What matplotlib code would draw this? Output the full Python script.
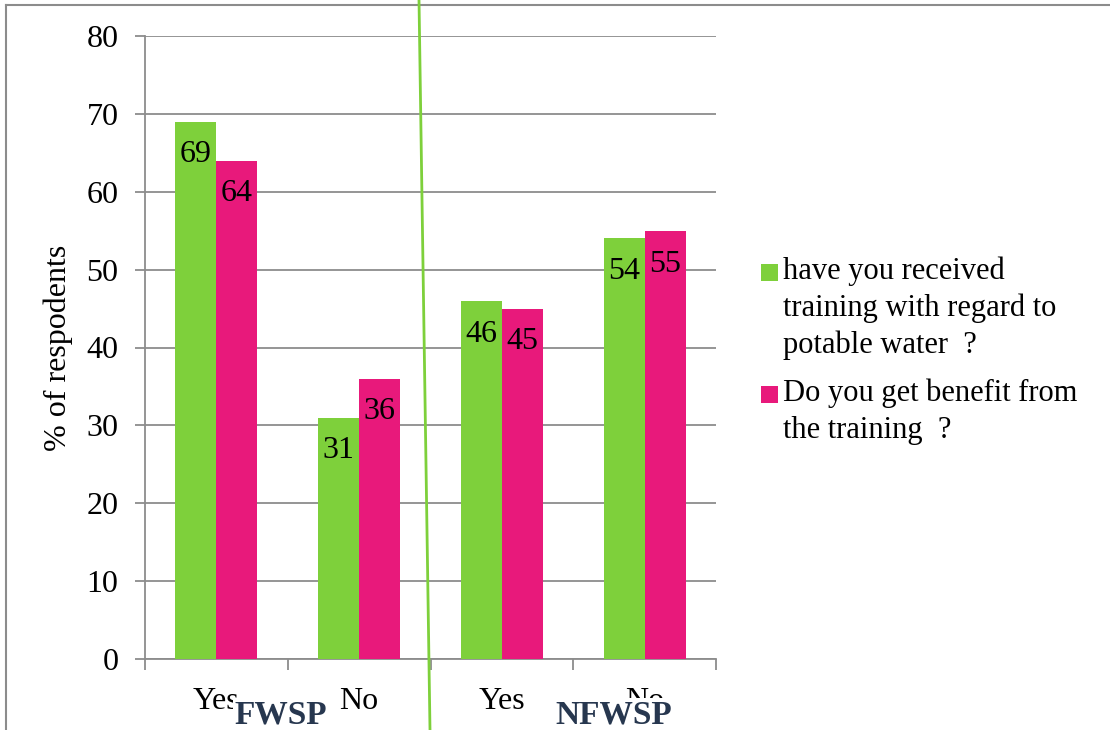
import numpy as np
import matplotlib.pyplot as plt
from matplotlib.lines import Line2D
from matplotlib.patches import Rectangle

categories = ['Yes', 'No', 'Yes', 'No']
received = [69, 31, 46, 54]
benefit = [64, 36, 45, 55]
groups = ['FWSP', 'NFWSP']
series_names = ['have you received\ntraining with regard to\npotable water  ?',
                'Do you get benefit from\nthe training  ?']

green = '#7ED03B'
pink = '#E8197B'
grid_gray = '#8C8C8C'

plt.rcParams['font.family'] = ['Liberation Serif', 'DejaVu Serif']

fig = plt.figure(figsize=(11.1, 7.3), dpi=100)
ax = fig.add_axes([145 / 1110, 1 - 659 / 730, (716 - 145) / 1110, (659 - 36) / 730])

x = np.arange(len(categories))
w = 0.287
b1 = ax.bar(x - w / 2, received, w, color=green, zorder=3)
b2 = ax.bar(x + w / 2, benefit, w, color=pink, zorder=3)

for bars, vals in ((b1, received), (b2, benefit)):
    for rect, v in zip(bars, vals):
        ax.annotate(str(v), (rect.get_x() + rect.get_width() / 2, v),
                    xytext=(0, -24), textcoords='offset points',
                    ha='center', va='center', fontsize=23, zorder=4)

ax.set_xlim(-0.5, len(categories) - 0.5)
ax.set_ylim(0, 80)
ax.set_yticks(np.arange(0, 81, 10))
ax.yaxis.grid(True, color=grid_gray, linewidth=1.3)
ax.set_axisbelow(True)

ax.set_xticks(x)
ax.set_xticklabels(categories)
ax.set_xticks(np.arange(-0.5, len(categories), 1), minor=True)
ax.tick_params(axis='x', which='major', length=0, pad=20, labelsize=23)
ax.tick_params(axis='x', which='minor', length=8, width=1.3, color=grid_gray)
ax.tick_params(axis='y', length=7, width=1.3, color=grid_gray, labelsize=23, pad=12)

for side in ('top', 'right'):
    ax.spines[side].set_visible(False)
for side in ('left', 'bottom'):
    ax.spines[side].set_color(grid_gray)
    ax.spines[side].set_linewidth(1.3)

ax.set_ylabel('% of respodents', fontsize=23, labelpad=10)

# group names under the category labels
for gx, name in zip([281, 614], groups):
    fig.text(gx / 1110, 1 - 715 / 730, name, ha='center', va='center',
             fontsize=24, fontweight='bold', color='#27374F',
             bbox=dict(facecolor='white', edgecolor='none', pad=1))

# legend: square swatch beside the first line of each entry
for (ty, label, col) in zip([257, 379], series_names, [green, pink]):
    fig.text(783 / 1110, 1 - ty / 730, label, ha='left', va='top',
             fontsize=22, linespacing=1.33)
    fig.add_artist(Rectangle((761 / 1110, 1 - 281 / 730 - (ty - 257) / 730),
                             17 / 1110, 17 / 730, transform=fig.transFigure,
                             facecolor=col, edgecolor='none'))

# outer frame and divider line
fig.add_artist(Line2D([6 / 1110, 6 / 1110], [0, 1 - 5 / 730],
                      transform=fig.transFigure, color=grid_gray, linewidth=1.5))
fig.add_artist(Line2D([6 / 1110, 1], [1 - 5 / 730, 1 - 5 / 730],
                      transform=fig.transFigure, color=grid_gray, linewidth=1.5))
fig.add_artist(Line2D([419 / 1110, 430 / 1110], [1, 0],
                      transform=fig.transFigure, color=green, linewidth=2))

fig.savefig('out.png', dpi=100)
